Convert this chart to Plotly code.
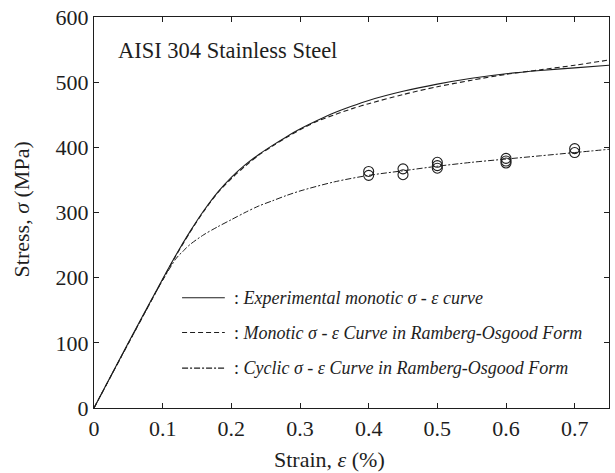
import plotly.graph_objects as go

# Experimental monotonic stress-strain curve (strain in %, stress in MPa)
exp_strain = [0, 0.05, 0.10, 0.12, 0.14, 0.16, 0.18, 0.20, 0.22, 0.24, 0.26, 0.28,
              0.30, 0.325, 0.35, 0.375, 0.40, 0.45, 0.50, 0.55, 0.60, 0.65, 0.70, 0.75]
exp_stress = [0, 100, 198, 236, 271, 303, 331, 354, 373, 389, 403, 416,
              428, 441, 453, 463, 472, 486, 497, 506, 513, 518, 522, 526]

# Monotonic curve, Ramberg-Osgood fit
ro_mono_strain = [0, 0.05, 0.10, 0.12, 0.14, 0.16, 0.18, 0.20, 0.22, 0.24, 0.26, 0.28,
                  0.30, 0.325, 0.35, 0.375, 0.40, 0.45, 0.50, 0.55, 0.60, 0.65, 0.70, 0.75]
ro_mono_stress = [0, 99, 197, 235, 270, 302, 330, 352, 371, 388, 402, 415,
                  427, 440, 450, 459, 467, 481, 493, 503, 512, 519, 526, 534]

# Cyclic curve, Ramberg-Osgood fit
ro_cyc_strain = [0, 0.05, 0.10, 0.12, 0.13, 0.14, 0.16, 0.18, 0.20, 0.22, 0.24, 0.26,
                 0.28, 0.30, 0.35, 0.40, 0.45, 0.50, 0.55, 0.60, 0.65, 0.70, 0.75]
ro_cyc_stress = [0, 99, 196, 230, 241, 251, 266, 278, 289, 300, 310, 318,
                 326, 333, 347, 357, 364, 371, 377, 382, 387, 392, 397]

# Measured cyclic stress amplitudes
test_strain = [0.40, 0.40, 0.45, 0.45, 0.50, 0.50, 0.50, 0.60, 0.60, 0.60, 0.70, 0.70]
test_stress = [363, 357, 367, 358, 377, 372, 368, 383, 379, 376, 398, 392]

INK = "#1e1e1e"
SERIF = "Liberation Serif"

legend_labels = [
    ": <i>Experimental monotic σ - ε curve</i>",
    ": <i>Monotic σ - ε Curve in Ramberg-Osgood Form</i>",
    ": <i>Cyclic σ - ε Curve in Ramberg-Osgood Form</i>",
]
legend_dashes = ["solid", "5px,3px", "6px,2px,2px,2px"]
legend_y = [0.282, 0.193, 0.102]

fig = go.Figure()
fig.add_trace(go.Scatter(x=exp_strain, y=exp_stress, mode="lines",
                         line=dict(color=INK, width=1.1, shape="spline", smoothing=0.8),
                         showlegend=False))
fig.add_trace(go.Scatter(x=ro_mono_strain, y=ro_mono_stress, mode="lines",
                         line=dict(color=INK, width=1.1, dash=legend_dashes[1],
                                   shape="spline", smoothing=0.8),
                         showlegend=False))
fig.add_trace(go.Scatter(x=ro_cyc_strain, y=ro_cyc_stress, mode="lines",
                         line=dict(color=INK, width=1.0, dash=legend_dashes[2],
                                   shape="spline", smoothing=0.8),
                         showlegend=False))
fig.add_trace(go.Scatter(x=test_strain, y=test_stress, mode="markers",
                         marker=dict(symbol="circle-open", size=10, color=INK,
                                     line=dict(width=1.1, color=INK)),
                         showlegend=False))

# Key: line samples with labels
for lab, dash, yy in zip(legend_labels, legend_dashes, legend_y):
    fig.add_shape(type="line", xref="paper", yref="paper",
                  x0=0.171, x1=0.254, y0=yy, y1=yy,
                  line=dict(color=INK, width=1.1, dash=dash))
    fig.add_annotation(xref="paper", yref="paper", x=0.268, y=yy, text=lab,
                       showarrow=False, xanchor="left", yanchor="middle",
                       font=dict(family=SERIF, size=18, color=INK))

fig.add_annotation(xref="paper", yref="paper", x=0.043, y=0.915,
                   text="AISI 304 Stainless Steel", showarrow=False,
                   xanchor="left", yanchor="middle",
                   font=dict(family=SERIF, size=22.5, color=INK))

# Axis titles
fig.add_annotation(xref="paper", yref="paper", x=0.457, y=-0.132,
                   text="Strain, <i>ε</i> (%)", showarrow=False,
                   xanchor="center", yanchor="middle",
                   font=dict(family=SERIF, size=22, color=INK))
fig.add_annotation(xref="paper", yref="paper", x=-0.139, y=0.509,
                   text="Stress, <i>σ</i> (MPa)", showarrow=False, textangle=-90,
                   xanchor="center", yanchor="middle",
                   font=dict(family=SERIF, size=22, color=INK))

axis_common = dict(showgrid=False, zeroline=False, showline=True, linecolor=INK, linewidth=1.2,
                   mirror="ticks", ticks="inside", ticklen=5, tickwidth=1, tickcolor=INK,
                   tickfont=dict(family=SERIF, size=22, color=INK))

fig.update_xaxes(range=[0, 0.75], tickvals=[0, 0.1, 0.2, 0.3, 0.4, 0.5, 0.6, 0.7],
                 ticktext=["0", "0.1", "0.2", "0.3", "0.4", "0.5", "0.6", "0.7"], **axis_common)
fig.update_yaxes(range=[0, 600], tickvals=[0, 100, 200, 300, 400, 500, 600], **axis_common)

fig.update_layout(width=615, height=473, margin=dict(l=94, r=5, t=14, b=65),
                  paper_bgcolor="white", plot_bgcolor="white")

fig.write_html("out.html")
